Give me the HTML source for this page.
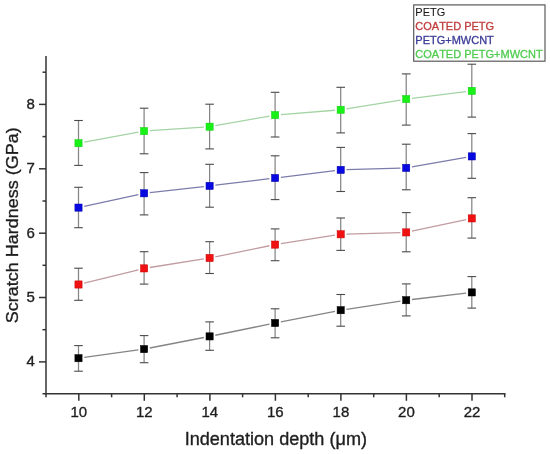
<!DOCTYPE html>
<html><head><meta charset="utf-8"><title>Scratch Hardness vs Indentation depth</title><style>
html,body{margin:0;padding:0;background:#fff;}
body{width:550px;height:454px;overflow:hidden;}
svg{display:block;filter:blur(0.35px);}
text{font-family:"Liberation Sans", sans-serif;font-kerning:none;}
.tk{font-size:15px;}
.tt{font-size:18px;}
.lg{font-size:11px;}
</style></head><body>
<svg width="550" height="454" viewBox="0 0 550 454" role="img" aria-label="Scratch Hardness (GPa) vs Indentation depth (μm) for PETG, COATED PETG, PETG+MWCNT, COATED PETG+MWCNT">
<rect width="550" height="454" fill="#fff"/>
<line x1="46" y1="56.1" x2="46" y2="397.3" stroke="#333" stroke-width="1.5"/>
<line x1="42.5" y1="393.8" x2="505.5" y2="393.8" stroke="#333" stroke-width="1.5"/>
<line x1="39" y1="361.9" x2="46" y2="361.9" stroke="#333" stroke-width="1.5"/>
<line x1="42.5" y1="329.7" x2="46" y2="329.7" stroke="#333" stroke-width="1.5"/>
<line x1="39" y1="297.5" x2="46" y2="297.5" stroke="#333" stroke-width="1.5"/>
<line x1="42.5" y1="265.3" x2="46" y2="265.3" stroke="#333" stroke-width="1.5"/>
<line x1="39" y1="233.2" x2="46" y2="233.2" stroke="#333" stroke-width="1.5"/>
<line x1="42.5" y1="201.0" x2="46" y2="201.0" stroke="#333" stroke-width="1.5"/>
<line x1="39" y1="168.8" x2="46" y2="168.8" stroke="#333" stroke-width="1.5"/>
<line x1="42.5" y1="136.6" x2="46" y2="136.6" stroke="#333" stroke-width="1.5"/>
<line x1="39" y1="104.4" x2="46" y2="104.4" stroke="#333" stroke-width="1.5"/>
<line x1="42.5" y1="72.2" x2="46" y2="72.2" stroke="#333" stroke-width="1.5"/>
<line x1="78.8" y1="393.8" x2="78.8" y2="400.8" stroke="#333" stroke-width="1.5"/>
<line x1="111.6" y1="393.8" x2="111.6" y2="397.3" stroke="#333" stroke-width="1.5"/>
<line x1="144.3" y1="393.8" x2="144.3" y2="400.8" stroke="#333" stroke-width="1.5"/>
<line x1="177.1" y1="393.8" x2="177.1" y2="397.3" stroke="#333" stroke-width="1.5"/>
<line x1="209.9" y1="393.8" x2="209.9" y2="400.8" stroke="#333" stroke-width="1.5"/>
<line x1="242.6" y1="393.8" x2="242.6" y2="397.3" stroke="#333" stroke-width="1.5"/>
<line x1="275.4" y1="393.8" x2="275.4" y2="400.8" stroke="#333" stroke-width="1.5"/>
<line x1="308.2" y1="393.8" x2="308.2" y2="397.3" stroke="#333" stroke-width="1.5"/>
<line x1="340.9" y1="393.8" x2="340.9" y2="400.8" stroke="#333" stroke-width="1.5"/>
<line x1="373.7" y1="393.8" x2="373.7" y2="397.3" stroke="#333" stroke-width="1.5"/>
<line x1="406.4" y1="393.8" x2="406.4" y2="400.8" stroke="#333" stroke-width="1.5"/>
<line x1="439.2" y1="393.8" x2="439.2" y2="397.3" stroke="#333" stroke-width="1.5"/>
<line x1="472.0" y1="393.8" x2="472.0" y2="400.8" stroke="#333" stroke-width="1.5"/>
<line x1="504.7" y1="393.8" x2="504.7" y2="397.3" stroke="#333" stroke-width="1.5"/>
<line x1="78.5" y1="345.6" x2="78.5" y2="371.2" stroke="#858585" stroke-width="1.25"/>
<line x1="74.2" y1="345.6" x2="82.8" y2="345.6" stroke="#4a4a4a" stroke-width="1.1"/>
<line x1="74.2" y1="371.2" x2="82.8" y2="371.2" stroke="#4a4a4a" stroke-width="1.1"/>
<line x1="144.1" y1="335.6" x2="144.1" y2="362.7" stroke="#858585" stroke-width="1.25"/>
<line x1="139.8" y1="335.6" x2="148.4" y2="335.6" stroke="#4a4a4a" stroke-width="1.1"/>
<line x1="139.8" y1="362.7" x2="148.4" y2="362.7" stroke="#4a4a4a" stroke-width="1.1"/>
<line x1="209.6" y1="321.9" x2="209.6" y2="350.3" stroke="#858585" stroke-width="1.25"/>
<line x1="205.3" y1="321.9" x2="213.9" y2="321.9" stroke="#4a4a4a" stroke-width="1.1"/>
<line x1="205.3" y1="350.3" x2="213.9" y2="350.3" stroke="#4a4a4a" stroke-width="1.1"/>
<line x1="275.1" y1="308.8" x2="275.1" y2="337.8" stroke="#858585" stroke-width="1.25"/>
<line x1="270.8" y1="308.8" x2="279.4" y2="308.8" stroke="#4a4a4a" stroke-width="1.1"/>
<line x1="270.8" y1="337.8" x2="279.4" y2="337.8" stroke="#4a4a4a" stroke-width="1.1"/>
<line x1="340.7" y1="294.5" x2="340.7" y2="326.2" stroke="#858585" stroke-width="1.25"/>
<line x1="336.4" y1="294.5" x2="345.0" y2="294.5" stroke="#4a4a4a" stroke-width="1.1"/>
<line x1="336.4" y1="326.2" x2="345.0" y2="326.2" stroke="#4a4a4a" stroke-width="1.1"/>
<line x1="406.2" y1="283.9" x2="406.2" y2="315.9" stroke="#858585" stroke-width="1.25"/>
<line x1="401.9" y1="283.9" x2="410.6" y2="283.9" stroke="#4a4a4a" stroke-width="1.1"/>
<line x1="401.9" y1="315.9" x2="410.6" y2="315.9" stroke="#4a4a4a" stroke-width="1.1"/>
<line x1="471.8" y1="276.6" x2="471.8" y2="308.1" stroke="#858585" stroke-width="1.25"/>
<line x1="467.5" y1="276.6" x2="476.1" y2="276.6" stroke="#4a4a4a" stroke-width="1.1"/>
<line x1="467.5" y1="308.1" x2="476.1" y2="308.1" stroke="#4a4a4a" stroke-width="1.1"/>
<line x1="78.5" y1="268.2" x2="78.5" y2="300.3" stroke="#858585" stroke-width="1.25"/>
<line x1="74.2" y1="268.2" x2="82.8" y2="268.2" stroke="#4a4a4a" stroke-width="1.1"/>
<line x1="74.2" y1="300.3" x2="82.8" y2="300.3" stroke="#4a4a4a" stroke-width="1.1"/>
<line x1="144.1" y1="251.7" x2="144.1" y2="284.1" stroke="#858585" stroke-width="1.25"/>
<line x1="139.8" y1="251.7" x2="148.4" y2="251.7" stroke="#4a4a4a" stroke-width="1.1"/>
<line x1="139.8" y1="284.1" x2="148.4" y2="284.1" stroke="#4a4a4a" stroke-width="1.1"/>
<line x1="209.6" y1="241.7" x2="209.6" y2="273.5" stroke="#858585" stroke-width="1.25"/>
<line x1="205.3" y1="241.7" x2="213.9" y2="241.7" stroke="#4a4a4a" stroke-width="1.1"/>
<line x1="205.3" y1="273.5" x2="213.9" y2="273.5" stroke="#4a4a4a" stroke-width="1.1"/>
<line x1="275.1" y1="228.9" x2="275.1" y2="260.7" stroke="#858585" stroke-width="1.25"/>
<line x1="270.8" y1="228.9" x2="279.4" y2="228.9" stroke="#4a4a4a" stroke-width="1.1"/>
<line x1="270.8" y1="260.7" x2="279.4" y2="260.7" stroke="#4a4a4a" stroke-width="1.1"/>
<line x1="340.7" y1="218.0" x2="340.7" y2="250.4" stroke="#858585" stroke-width="1.25"/>
<line x1="336.4" y1="218.0" x2="345.0" y2="218.0" stroke="#4a4a4a" stroke-width="1.1"/>
<line x1="336.4" y1="250.4" x2="345.0" y2="250.4" stroke="#4a4a4a" stroke-width="1.1"/>
<line x1="406.2" y1="212.6" x2="406.2" y2="251.8" stroke="#858585" stroke-width="1.25"/>
<line x1="401.9" y1="212.6" x2="410.6" y2="212.6" stroke="#4a4a4a" stroke-width="1.1"/>
<line x1="401.9" y1="251.8" x2="410.6" y2="251.8" stroke="#4a4a4a" stroke-width="1.1"/>
<line x1="471.8" y1="197.7" x2="471.8" y2="238.1" stroke="#858585" stroke-width="1.25"/>
<line x1="467.5" y1="197.7" x2="476.1" y2="197.7" stroke="#4a4a4a" stroke-width="1.1"/>
<line x1="467.5" y1="238.1" x2="476.1" y2="238.1" stroke="#4a4a4a" stroke-width="1.1"/>
<line x1="78.5" y1="187.3" x2="78.5" y2="227.7" stroke="#858585" stroke-width="1.25"/>
<line x1="74.2" y1="187.3" x2="82.8" y2="187.3" stroke="#4a4a4a" stroke-width="1.1"/>
<line x1="74.2" y1="227.7" x2="82.8" y2="227.7" stroke="#4a4a4a" stroke-width="1.1"/>
<line x1="144.1" y1="172.6" x2="144.1" y2="214.9" stroke="#858585" stroke-width="1.25"/>
<line x1="139.8" y1="172.6" x2="148.4" y2="172.6" stroke="#4a4a4a" stroke-width="1.1"/>
<line x1="139.8" y1="214.9" x2="148.4" y2="214.9" stroke="#4a4a4a" stroke-width="1.1"/>
<line x1="209.6" y1="164.3" x2="209.6" y2="207.2" stroke="#858585" stroke-width="1.25"/>
<line x1="205.3" y1="164.3" x2="213.9" y2="164.3" stroke="#4a4a4a" stroke-width="1.1"/>
<line x1="205.3" y1="207.2" x2="213.9" y2="207.2" stroke="#4a4a4a" stroke-width="1.1"/>
<line x1="275.1" y1="155.8" x2="275.1" y2="199.6" stroke="#858585" stroke-width="1.25"/>
<line x1="270.8" y1="155.8" x2="279.4" y2="155.8" stroke="#4a4a4a" stroke-width="1.1"/>
<line x1="270.8" y1="199.6" x2="279.4" y2="199.6" stroke="#4a4a4a" stroke-width="1.1"/>
<line x1="340.7" y1="147.4" x2="340.7" y2="191.5" stroke="#858585" stroke-width="1.25"/>
<line x1="336.4" y1="147.4" x2="345.0" y2="147.4" stroke="#4a4a4a" stroke-width="1.1"/>
<line x1="336.4" y1="191.5" x2="345.0" y2="191.5" stroke="#4a4a4a" stroke-width="1.1"/>
<line x1="406.2" y1="144.2" x2="406.2" y2="189.8" stroke="#858585" stroke-width="1.25"/>
<line x1="401.9" y1="144.2" x2="410.6" y2="144.2" stroke="#4a4a4a" stroke-width="1.1"/>
<line x1="401.9" y1="189.8" x2="410.6" y2="189.8" stroke="#4a4a4a" stroke-width="1.1"/>
<line x1="471.8" y1="133.6" x2="471.8" y2="178.3" stroke="#858585" stroke-width="1.25"/>
<line x1="467.5" y1="133.6" x2="476.1" y2="133.6" stroke="#4a4a4a" stroke-width="1.1"/>
<line x1="467.5" y1="178.3" x2="476.1" y2="178.3" stroke="#4a4a4a" stroke-width="1.1"/>
<line x1="78.5" y1="120.5" x2="78.5" y2="165.4" stroke="#858585" stroke-width="1.25"/>
<line x1="74.2" y1="120.5" x2="82.8" y2="120.5" stroke="#4a4a4a" stroke-width="1.1"/>
<line x1="74.2" y1="165.4" x2="82.8" y2="165.4" stroke="#4a4a4a" stroke-width="1.1"/>
<line x1="144.1" y1="108.2" x2="144.1" y2="153.8" stroke="#858585" stroke-width="1.25"/>
<line x1="139.8" y1="108.2" x2="148.4" y2="108.2" stroke="#4a4a4a" stroke-width="1.1"/>
<line x1="139.8" y1="153.8" x2="148.4" y2="153.8" stroke="#4a4a4a" stroke-width="1.1"/>
<line x1="209.6" y1="104.2" x2="209.6" y2="148.9" stroke="#858585" stroke-width="1.25"/>
<line x1="205.3" y1="104.2" x2="213.9" y2="104.2" stroke="#4a4a4a" stroke-width="1.1"/>
<line x1="205.3" y1="148.9" x2="213.9" y2="148.9" stroke="#4a4a4a" stroke-width="1.1"/>
<line x1="275.1" y1="92.3" x2="275.1" y2="137.0" stroke="#858585" stroke-width="1.25"/>
<line x1="270.8" y1="92.3" x2="279.4" y2="92.3" stroke="#4a4a4a" stroke-width="1.1"/>
<line x1="270.8" y1="137.0" x2="279.4" y2="137.0" stroke="#4a4a4a" stroke-width="1.1"/>
<line x1="340.7" y1="87.3" x2="340.7" y2="132.9" stroke="#858585" stroke-width="1.25"/>
<line x1="336.4" y1="87.3" x2="345.0" y2="87.3" stroke="#4a4a4a" stroke-width="1.1"/>
<line x1="336.4" y1="132.9" x2="345.0" y2="132.9" stroke="#4a4a4a" stroke-width="1.1"/>
<line x1="406.2" y1="73.9" x2="406.2" y2="125.1" stroke="#858585" stroke-width="1.25"/>
<line x1="401.9" y1="73.9" x2="410.6" y2="73.9" stroke="#4a4a4a" stroke-width="1.1"/>
<line x1="401.9" y1="125.1" x2="410.6" y2="125.1" stroke="#4a4a4a" stroke-width="1.1"/>
<line x1="471.8" y1="64.2" x2="471.8" y2="117.1" stroke="#858585" stroke-width="1.25"/>
<line x1="467.5" y1="64.2" x2="476.1" y2="64.2" stroke="#4a4a4a" stroke-width="1.1"/>
<line x1="467.5" y1="117.1" x2="476.1" y2="117.1" stroke="#4a4a4a" stroke-width="1.1"/>
<path d="M84.24 357.40L138.31 349.90M149.74 348.00L203.91 337.50M215.28 335.24L269.47 324.16M280.84 321.89L335.01 311.31M346.43 309.33L400.52 301.07M412.01 299.51L466.04 293.09" fill="none" stroke="#858585" stroke-width="1.3"/>
<path d="M84.13 283.12L138.42 269.78M149.78 267.49L203.87 258.91M215.28 256.84L269.47 245.76M280.88 243.70L334.97 235.20M346.50 234.13L400.45 232.57M411.92 231.19L466.13 219.61" fill="none" stroke="#c09ca2" stroke-width="1.3"/>
<path d="M84.17 206.36L138.38 194.54M149.81 192.65L203.84 186.55M215.36 185.21L269.39 178.69M280.91 177.29L334.94 170.61M346.50 169.72L400.45 168.08M411.96 166.90L466.09 157.40" fill="none" stroke="#7c7cac" stroke-width="1.3"/>
<path d="M84.20 142.15L138.35 132.15M149.84 130.71L203.81 127.09M215.31 125.69L269.44 116.11M280.93 114.63L334.92 110.27M346.42 108.87L400.53 100.03M412.01 98.38L466.04 91.62" fill="none" stroke="#a4d4a4" stroke-width="1.3"/>
<rect x="74.9" y="354.6" width="7.2" height="7.2" fill="#000000" stroke="#000000" stroke-width="0.5"/>
<rect x="140.5" y="345.5" width="7.2" height="7.2" fill="#000000" stroke="#000000" stroke-width="0.5"/>
<rect x="206.0" y="332.8" width="7.2" height="7.2" fill="#000000" stroke="#000000" stroke-width="0.5"/>
<rect x="271.5" y="319.4" width="7.2" height="7.2" fill="#000000" stroke="#000000" stroke-width="0.5"/>
<rect x="337.1" y="306.6" width="7.2" height="7.2" fill="#000000" stroke="#000000" stroke-width="0.5"/>
<rect x="402.6" y="296.6" width="7.2" height="7.2" fill="#000000" stroke="#000000" stroke-width="0.5"/>
<rect x="468.2" y="288.8" width="7.2" height="7.2" fill="#000000" stroke="#000000" stroke-width="0.5"/>
<rect x="74.9" y="280.9" width="7.2" height="7.2" fill="#f01212" stroke="#c80000" stroke-width="0.5"/>
<rect x="140.5" y="264.8" width="7.2" height="7.2" fill="#f01212" stroke="#c80000" stroke-width="0.5"/>
<rect x="206.0" y="254.4" width="7.2" height="7.2" fill="#f01212" stroke="#c80000" stroke-width="0.5"/>
<rect x="271.5" y="241.0" width="7.2" height="7.2" fill="#f01212" stroke="#c80000" stroke-width="0.5"/>
<rect x="337.1" y="230.7" width="7.2" height="7.2" fill="#f01212" stroke="#c80000" stroke-width="0.5"/>
<rect x="402.6" y="228.8" width="7.2" height="7.2" fill="#f01212" stroke="#c80000" stroke-width="0.5"/>
<rect x="468.2" y="214.8" width="7.2" height="7.2" fill="#f01212" stroke="#c80000" stroke-width="0.5"/>
<rect x="74.9" y="204.0" width="7.2" height="7.2" fill="#0808e0" stroke="#0000a8" stroke-width="0.5"/>
<rect x="140.5" y="189.7" width="7.2" height="7.2" fill="#0808e0" stroke="#0000a8" stroke-width="0.5"/>
<rect x="206.0" y="182.3" width="7.2" height="7.2" fill="#0808e0" stroke="#0000a8" stroke-width="0.5"/>
<rect x="271.5" y="174.4" width="7.2" height="7.2" fill="#0808e0" stroke="#0000a8" stroke-width="0.5"/>
<rect x="337.1" y="166.3" width="7.2" height="7.2" fill="#0808e0" stroke="#0000a8" stroke-width="0.5"/>
<rect x="402.6" y="164.3" width="7.2" height="7.2" fill="#0808e0" stroke="#0000a8" stroke-width="0.5"/>
<rect x="468.2" y="152.8" width="7.2" height="7.2" fill="#0808e0" stroke="#0000a8" stroke-width="0.5"/>
<rect x="74.9" y="139.6" width="7.2" height="7.2" fill="#18f018" stroke="#10d010" stroke-width="0.5"/>
<rect x="140.5" y="127.5" width="7.2" height="7.2" fill="#18f018" stroke="#10d010" stroke-width="0.5"/>
<rect x="206.0" y="123.1" width="7.2" height="7.2" fill="#18f018" stroke="#10d010" stroke-width="0.5"/>
<rect x="271.5" y="111.5" width="7.2" height="7.2" fill="#18f018" stroke="#10d010" stroke-width="0.5"/>
<rect x="337.1" y="106.2" width="7.2" height="7.2" fill="#18f018" stroke="#10d010" stroke-width="0.5"/>
<rect x="402.6" y="95.5" width="7.2" height="7.2" fill="#18f018" stroke="#10d010" stroke-width="0.5"/>
<rect x="468.2" y="87.3" width="7.2" height="7.2" fill="#18f018" stroke="#10d010" stroke-width="0.5"/>
<rect x="413.7" y="4.9" width="131.3" height="56.3" fill="#fff" stroke="#5a5a5a" stroke-width="1.2"/>
<text class="lg" transform="translate(415.3,16.3) scale(1,1.04)" fill="#151515" stroke="#151515" stroke-width="0.05">PETG</text>
<text class="lg" transform="translate(415.3,30.1) scale(1,1.04)" fill="#c03c3c" stroke="#c03c3c" stroke-width="0.3">COATED PETG</text>
<text class="lg" transform="translate(415.3,43.9) scale(1,1.04)" fill="#3c3c98" stroke="#3c3c98" stroke-width="0.3">PETG+MWCNT</text>
<text class="lg" transform="translate(415.3,57.7) scale(1,1.04)" fill="#50cc50" stroke="#50cc50" stroke-width="0.3">COATED PETG+MWCNT</text>
<g class="tk" fill="#1e1e1e" stroke="#1e1e1e" stroke-width="0.35"><text x="34.9" y="366.2" text-anchor="end">4</text><text x="34.9" y="301.8" text-anchor="end">5</text><text x="34.9" y="237.5" text-anchor="end">6</text><text x="34.9" y="173.1" text-anchor="end">7</text><text x="34.9" y="108.7" text-anchor="end">8</text><text x="78.80" y="417" text-anchor="middle">10</text><text x="144.33" y="417" text-anchor="middle">12</text><text x="209.86" y="417" text-anchor="middle">14</text><text x="275.39" y="417" text-anchor="middle">16</text><text x="340.92" y="417" text-anchor="middle">18</text><text x="406.45" y="417" text-anchor="middle">20</text><text x="471.98" y="417" text-anchor="middle">22</text></g>
<text class="tt" style="font-size:18.1px" transform="translate(275.8,445.3) scale(1,1.04)" text-anchor="middle" fill="#1e1e1e" stroke="#1e1e1e" stroke-width="0.35">Indentation depth (μm)</text>
<text class="tt" transform="translate(17.8,225.3) rotate(-90) scale(1,0.95)" text-anchor="middle" fill="#1e1e1e" stroke="#1e1e1e" stroke-width="0.35">Scratch Hardness (GPa)</text>
</svg>
</body></html>
